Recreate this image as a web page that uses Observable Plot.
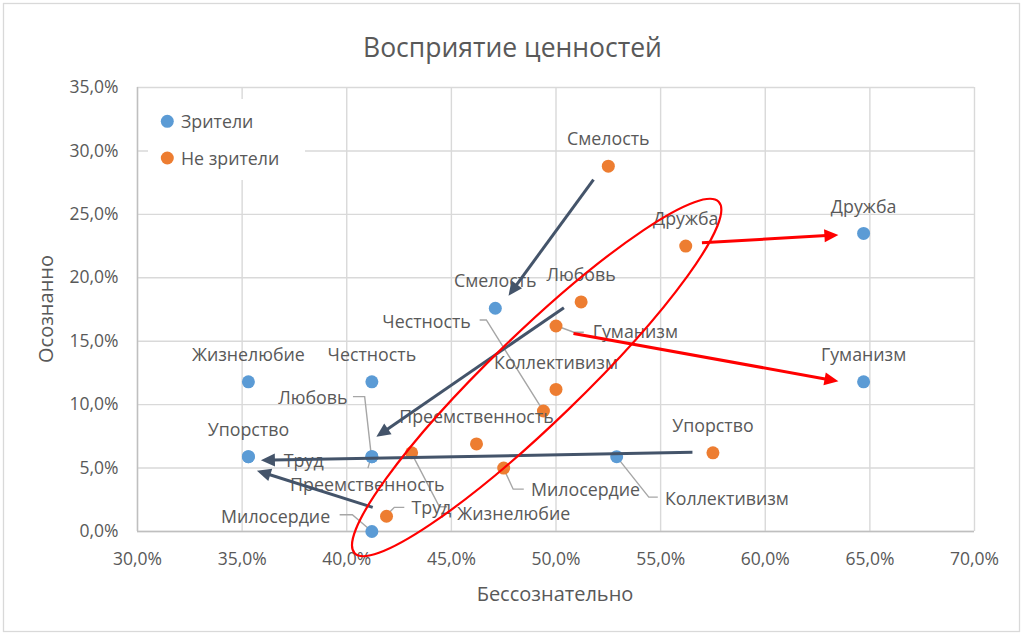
<!DOCTYPE html>
<html>
<head>
<meta charset="utf-8">
<script src="https://cdn.jsdelivr.net/npm/d3@7"></script>
<script src="https://cdn.jsdelivr.net/npm/@observablehq/plot@0.6"></script>
<style>
  html, body { margin: 0; padding: 0; background: #fff; }
  #wrap { position: relative; width: 1025px; height: 635px; overflow: hidden; font-family: "Open Sans", sans-serif; }
  #wrap > svg { position: absolute; left: 0; top: 0; }
  #overlay { pointer-events: none; }
</style>
</head>
<body>
<div id="wrap"></div>
<script>
// ---------- data ----------
const values = ["Смелость","Дружба","Любовь","Гуманизм","Коллективизм","Честность","Преемственность","Милосердие","Жизнелюбие","Упорство","Труд"];
const seriesNames = ["Зрители", "Не зрители"];
// Зрители
const viewersUnconscious = [47.1, 64.7, 41.2, 64.7, 52.9, 41.2, 41.2, 41.2, 35.3, 35.3, 35.3];
const viewersConscious   = [17.6, 23.5,  5.9, 11.8,  5.9, 11.8,  5.9,  0.0, 11.8,  5.9,  5.9];
// Не зрители
const nonViewersUnconscious = [52.5, 56.2, 51.2, 50.0, 50.0, 49.4, 46.2, 47.5, 43.1, 57.5, 41.9];
const nonViewersConscious   = [28.8, 22.5, 18.1, 16.2, 11.2,  9.5,  6.9,  5.0,  6.2,  6.2,  1.2];
const xTicks = [30, 35, 40, 45, 50, 55, 60, 65, 70];
const yTicks = [0, 5, 10, 15, 20, 25, 30, 35];
const titleText = "Восприятие ценностей";
const xTitle = "Бессознательно";
const yTitle = "Осознанно";
// arrows: from "Не зрители" point to "Зрители" point of the same value
const darkArrows = ["Смелость", "Любовь", "Упорство", "Труд"];
const redArrows = ["Дружба", "Гуманизм"];
// highlighted region centre (data units)
const highlightCenter = [49.1, 12.1];

// ---------- styles / placement ----------
const COLORS = ["#5B9BD5", "#ED7D31"];
const TEXT = "#595959";
const GRID = "#D9D9D9";
const FONT = '"Open Sans", sans-serif';
const LABEL_SIZE = 17.8;
const ABOVE = {dx: 0, dy: -26.5, anchor: "middle"};
const labelPlace = [
  { // Зрители
    "Любовь": {dx: -24.4, dy: -58.4, anchor: "end", leader: [[-18.4,-59.5],[-6.7,-59.5],[0,0]]},
    "Преемственность": {dx: -4.5, dy: 28.3, anchor: "middle", leader: [[-3.4,12],[0,0]]},
    "Милосердие": {dx: -41.7, dy: -14.7, anchor: "end", leader: [[-31.7,-16.2],[-19,-16.2],[0,0]]},
    "Коллективизм": {dx: 48.3, dy: 42.6, anchor: "start", leader: [[0,0],[32.6,41],[41.6,41]]},
    "Труд": {dx: 35.4, dy: 5, anchor: "start"}
  },
  { // Не зрители
    "Гуманизм": {dx: 36.7, dy: 6.7, anchor: "start", leader: [[0,0],[18.3,6.7],[28.3,6.7]]},
    "Честность": {dx: -72.6, dy: -89, anchor: "end", leader: [[-63.3,-90.5],[-56.6,-90.5],[0,0]]},
    "Милосердие": {dx: 27.3, dy: 22.3, anchor: "start", leader: [[0,0],[10,21.6],[20.6,21.6]]},
    "Жизнелюбие": {dx: 45.7, dy: 61, anchor: "start", leader: [[0,0],[28.3,54.4],[36,54.4]]},
    "Труд": {dx: 25, dy: -8.4, anchor: "start", leader: [[0,0],[8.3,-8.4],[18.3,-8.4]]}
  }
];
// pixel offsets of arrow start (from "Не зрители" point) and tip (from "Зрители" point)
const arrowOffsets = {
  "Смелость": [[-14.3, 14], [13.7, -12]],
  "Любовь":   [[-16.7, 6.3], [5, -19.4]],
  "Упорство": [[-20, 0], [13, 4]],
  "Труд":     [[-13.3, -8.4], [9, 14.5]],
  "Дружба":   [[16.7, -2.7], [-24.7, 2]],
  "Гуманизм": [[18, 8], [-24.7, 0]]
};

const seriesX = [viewersUnconscious, nonViewersUnconscious];
const seriesY = [viewersConscious, nonViewersConscious];
const fmt = d => d.toFixed(1).replace(".", ",") + "%";
const idx = values.map((_, i) => i);

// leader lines (drawn in pixel space from each point)
function leadersMark(index, scales) {
  const g = d3.create("svg:g").attr("fill", "none").attr("stroke", "#A6A6A6").attr("stroke-width", 1.4);
  seriesX.forEach((xs, s) => {
    values.forEach((v, i) => {
      const p = labelPlace[s][v];
      if (!p || !p.leader) return;
      const px = scales.x(xs[i]), py = scales.y(seriesY[s][i]);
      g.append("path").attr("d", d3.line()(p.leader.map(([ox, oy]) => [px + ox, py + oy])));
    });
  });
  return g.node();
}

function arrowsMark(index, scales) {
  const g = d3.create("svg:g");
  const draw = (names, color) => {
    for (const v of names) {
      const i = values.indexOf(v);
      const [so, eo] = arrowOffsets[v];
      const sx = scales.x(nonViewersUnconscious[i]) + so[0], sy = scales.y(nonViewersConscious[i]) + so[1];
      const tx = scales.x(viewersUnconscious[i]) + eo[0], ty = scales.y(viewersConscious[i]) + eo[1];
      const dx = tx - sx, dy = ty - sy, len = Math.hypot(dx, dy), ux = dx / len, uy = dy / len;
      const hl = 14, hw = 6.5;
      const bx = tx - ux * hl, by = ty - uy * hl;
      g.append("line").attr("x1", sx).attr("y1", sy).attr("x2", bx + ux * 2).attr("y2", by + uy * 2)
        .attr("stroke", color).attr("stroke-width", 3);
      g.append("path").attr("d", `M${tx},${ty}L${bx - uy * hw},${by + ux * hw}L${bx + uy * hw},${by - ux * hw}Z`)
        .attr("fill", color);
    }
  };
  draw(darkArrows, "#44546A");
  draw(redArrows, "#FF0000");
  return g.node();
}

function ellipseMark(index, scales) {
  const cx = scales.x(highlightCenter[0]), cy = scales.y(highlightCenter[1]);
  return d3.create("svg:ellipse")
    .attr("cx", 0).attr("cy", 0).attr("rx", 253).attr("ry", 45)
    .attr("transform", `translate(${cx},${cy}) rotate(-44)`)
    .attr("fill", "none").attr("stroke", "#FF0000").attr("stroke-width", 2.2).node();
}

const labelMarks = [];
seriesX.forEach((xs, s) => {
  values.forEach((v, i) => {
    const p = labelPlace[s][v] || ABOVE;
    labelMarks.push(Plot.text([i], {
      x: d => xs[d], y: d => seriesY[s][d], text: d => values[d],
      dx: p.dx, dy: p.dy, textAnchor: p.anchor, fill: TEXT, fontSize: LABEL_SIZE
    }));
  });
});

const chart = Plot.plot({
  width: 1025, height: 635,
  marginLeft: 137, marginRight: 51, marginTop: 87, marginBottom: 104,
  style: {fontFamily: FONT, fontSize: "17.5px", color: TEXT, background: "transparent", overflow: "visible"},
  x: {domain: [30, 70], ticks: xTicks, tickFormat: fmt, label: null},
  y: {domain: [0, 35], ticks: yTicks, tickFormat: fmt, label: null},
  marks: [
    Plot.gridX(xTicks, {stroke: GRID, strokeOpacity: 1, strokeWidth: 1.4}),
    Plot.gridY(yTicks, {stroke: GRID, strokeOpacity: 1, strokeWidth: 1.4}),
    Plot.ruleX([30], {stroke: "#BFBFBF", strokeWidth: 1.4}),
    Plot.ruleY([0], {stroke: "#BFBFBF", strokeWidth: 1.4}),
    Plot.axisX(xTicks, {tickSize: 0, tickPadding: 21, tickFormat: fmt, label: null, fontSize: 17.5, fill: TEXT}),
    Plot.axisY(yTicks, {tickSize: 0, tickPadding: 19, tickFormat: fmt, label: null, fontSize: 17.5, fill: TEXT}),
    leadersMark,
    Plot.dot(idx, {x: i => viewersUnconscious[i], y: i => viewersConscious[i], r: 6.5, fill: COLORS[0], stroke: null}),
    Plot.dot(idx, {x: i => nonViewersUnconscious[i], y: i => nonViewersConscious[i], r: 6.5, fill: COLORS[1], stroke: null}),
    ...labelMarks,
    arrowsMark,
    ellipseMark
  ]
});

const wrap = document.getElementById("wrap");
wrap.appendChild(chart);

// overlay: frame, title, axis titles, legend
const ov = d3.select(wrap).append("svg").attr("id", "overlay")
  .attr("width", 1025).attr("height", 635)
  .style("font-family", FONT).style("fill", TEXT);
ov.append("rect").attr("x", 3.5).attr("y", 3.5).attr("width", 1016).attr("height", 628)
  .attr("fill", "none").attr("stroke", "#D9D9D9").attr("stroke-width", 1.3);
ov.append("text").attr("x", 512.5).attr("y", 56.7).attr("text-anchor", "middle")
  .attr("font-size", 26.5).attr("fill", TEXT).text(titleText);
ov.append("text").attr("x", 555).attr("y", 601).attr("text-anchor", "middle")
  .attr("font-size", 20).attr("fill", TEXT).text(xTitle);
ov.append("text").attr("transform", "translate(52.5,309) rotate(-90)").attr("text-anchor", "middle")
  .attr("font-size", 20).attr("fill", TEXT).text(yTitle);
const lg = ov.append("g");
lg.append("rect").attr("x", 148).attr("y", 99).attr("width", 157).attr("height", 81).attr("fill", "#fff");
seriesNames.forEach((n, k) => {
  const cy = 121.3 + k * 36.7;
  lg.append("circle").attr("cx", 167.3).attr("cy", cy).attr("r", 6.5).attr("fill", COLORS[k]);
  lg.append("text").attr("x", 181).attr("y", cy + 6.5).attr("font-size", LABEL_SIZE).attr("fill", TEXT).text(n);
});
</script>
</body>
</html>
